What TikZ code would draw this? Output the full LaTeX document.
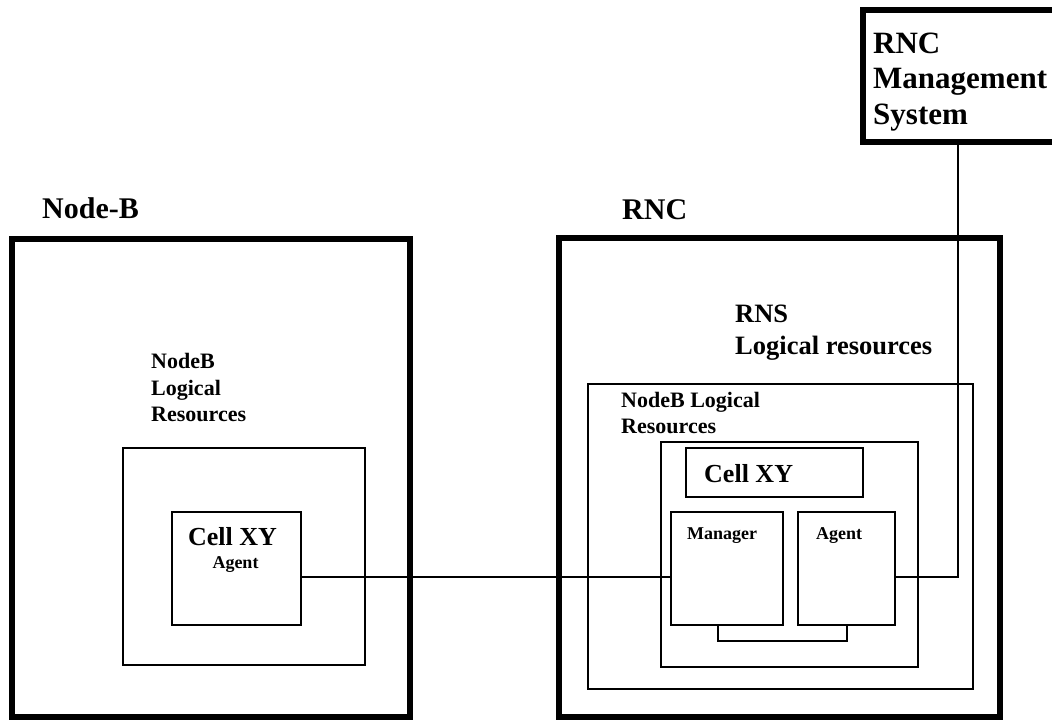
\documentclass[tikz,border=0pt]{standalone}
\usepackage{fontspec}
\setmainfont{Liberation Serif}
\begin{document}
\begin{tikzpicture}[x=1pt,y=-1pt,
  thickbox/.style={draw, line width=5.5pt, rectangle, inner sep=0pt},
  thinbox/.style={draw, line width=1.6pt, rectangle, inner sep=0pt},
  conn/.style={line width=1.6pt},
  lbl/.style={anchor=base west, inner sep=0pt, font=\bfseries\fontsize{#1}{#1}\selectfont},
  clbl/.style={anchor=base, inner sep=0pt, font=\bfseries\fontsize{#1}{#1}\selectfont}]
\useasboundingbox (0,0) rectangle (1052,720);
\clip (0,0) rectangle (1052,720);
% boxes
\node[thickbox, minimum width=398pt, minimum height=478pt] (nodeB) at (211,478) {};
\node[thinbox, minimum width=242pt, minimum height=217pt] (nlrL) at (244,556.5) {};
\node[thinbox, minimum width=129pt, minimum height=113pt] (cellL) at (236.5,568.5) {};
\node[thickbox, minimum width=441pt, minimum height=479pt] (rnc) at (779.5,477.5) {};
\node[thinbox, minimum width=385pt, minimum height=305pt] (nlrR) at (780.5,536.5) {};
\node[thinbox, minimum width=257pt, minimum height=225pt] (inner) at (789.5,554.5) {};
\node[thinbox, minimum width=177pt, minimum height=49pt] (cellR) at (774.5,472.5) {};
\node[thinbox, minimum width=112pt, minimum height=113pt] (mgr) at (727,568.5) {};
\node[thinbox, minimum width=97pt, minimum height=113pt] (agt) at (846.5,568.5) {};
\node[thickbox, minimum width=202pt, minimum height=132pt] (rncms) at (964,76) {};
% labels
\node[lbl=30] (tNodeB) at (42,218) {Node-B};
\node[lbl=30] (tRNC) at (622,219) {RNC};
\node[lbl=31] (tms1) at (873,53) {RNC};
\node[lbl=31] (tms2) at (873,88.5) {Management};
\node[lbl=31] (tms3) at (873,124) {System};
\node[lbl=26.5] (trns1) at (735,322) {RNS};
\node[lbl=26.5] (trns2) at (735,354) {Logical resources};
\node[lbl=22] (tl1) at (151,368) {NodeB};
\node[lbl=22] (tl2) at (151,395) {Logical};
\node[lbl=22] (tl3) at (151,421) {Resources};
\node[lbl=22] (tr1) at (621,407) {NodeB Logical};
\node[lbl=22] (tr2) at (621,433) {Resources};
\node[lbl=26] (tcellR) at (704,482) {Cell XY};
\node[clbl=26] (tcellL) at (232.5,545) {Cell XY};
\node[clbl=18] (tagL) at (235.5,568) {Agent};
\node[lbl=18] (tmgr) at (687,539) {Manager};
\node[lbl=18] (tagR) at (816,539) {Agent};
% connectors
\coordinate (ly) at (0,577);
\coordinate (b1) at (718,641);
\coordinate (b2) at (847,641);
\coordinate (c1) at (958,577);
\draw[conn] (cellL.east |- ly) -- (mgr.west |- ly);
\draw[conn] (mgr.south -| b1) -- (b1) -- (b2) -- (agt.south -| b2);
\draw[conn] (agt.east |- c1) -- (c1) -- (rncms.south -| c1);
\end{tikzpicture}
\end{document}
